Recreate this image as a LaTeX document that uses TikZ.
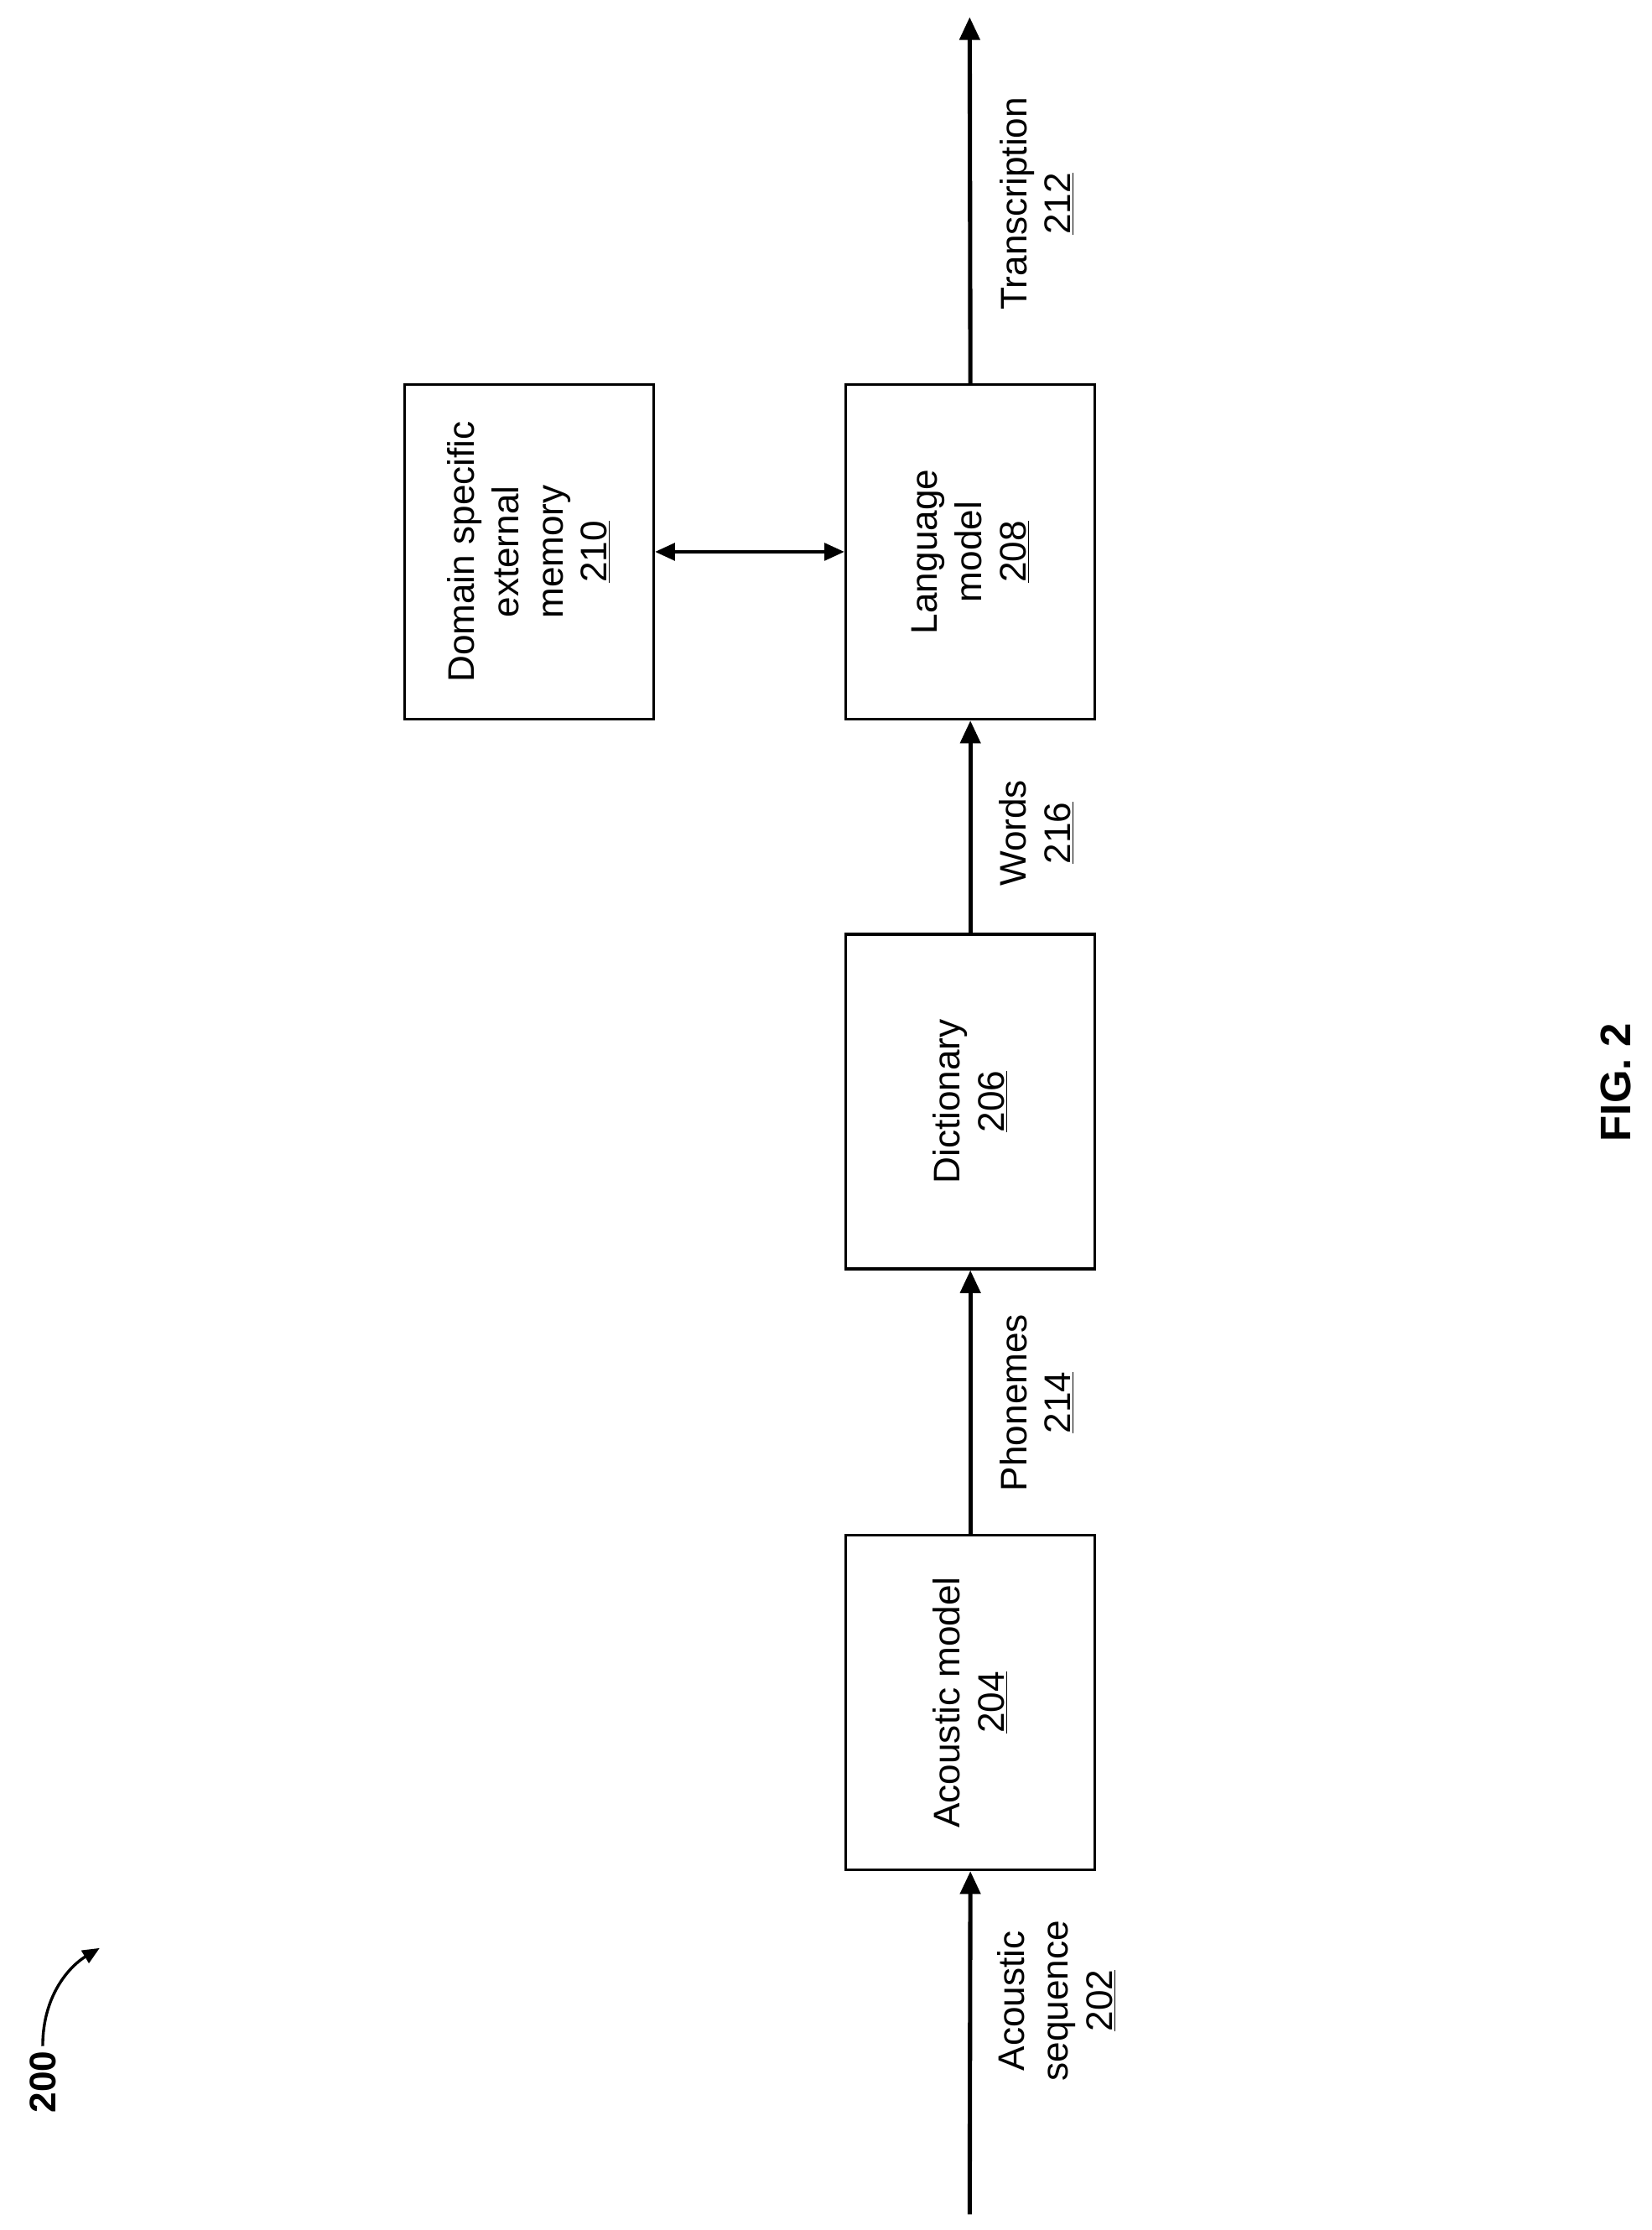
\documentclass[tikz,border=0pt]{standalone}
\usepackage{fontspec}
\setmainfont{Liberation Sans}
\usetikzlibrary{arrows.meta}
\begin{document}
\begin{tikzpicture}[x=1pt,y=-1pt,
  box/.style={draw,line width=2pt,minimum width=235pt,minimum height=175pt,rotate=90,align=center,font=\fontsize{26}{31}\selectfont,inner sep=0pt},
  lab/.style={rotate=90,align=center,font=\fontsize{26}{31}\selectfont},
  flow/.style={line width=3pt,-{Triangle[length=16pt,width=14pt]}}]
\useasboundingbox (0,0) rectangle (1160,1566);
\node[box] (am) at (681.5,1195.5) {Acoustic model\\\underline{204}};
\node[box] (di) at (681.5,773.5) {Dictionary\\\underline{206}};
\node[box] (lm) at (681.5,387.5) {Language\\model\\\underline{208}};
\node[box] (dm) at (371.5,387.5) {Domain specific\\external\\memory\\\underline{210}};
\coordinate (s) at (681,1555);
\coordinate (t) at (681,12);
\draw[flow] (s) -- (am.west);
\draw[flow] (am.east) -- (di.west);
\draw[flow] (di.east) -- (lm.west);
\draw[flow] (lm.east) -- (t);
\draw[line width=2.5pt,{Triangle[length=14pt,width=12pt]}-{Triangle[length=14pt,width=12pt]}] (dm.south) -- (lm.north);
\node[lab] (l1) at (742,1405) {Acoustic\\sequence\\\underline{202}};
\node[lab] (l2) at (728,985) {Phonemes\\\underline{214}};
\node[lab] (l3) at (728,585) {Words\\\underline{216}};
\node[lab] (l4) at (728,143) {Transcription\\\underline{212}};
\node[rotate=90,font=\bfseries\fontsize{26}{31}\selectfont] (n200) at (30,1462) {200};
\coordinate (a200) at (70,1368);
\draw[line width=2pt,-{Triangle[length=12pt,width=10pt]}] (n200.east) .. controls (30,1400) and (50,1380) .. (a200);
\node[rotate=90,font=\bfseries\fontsize{30}{36}\selectfont] (fig) at (1135,760) {FIG. 2};
\end{tikzpicture}
\end{document}
